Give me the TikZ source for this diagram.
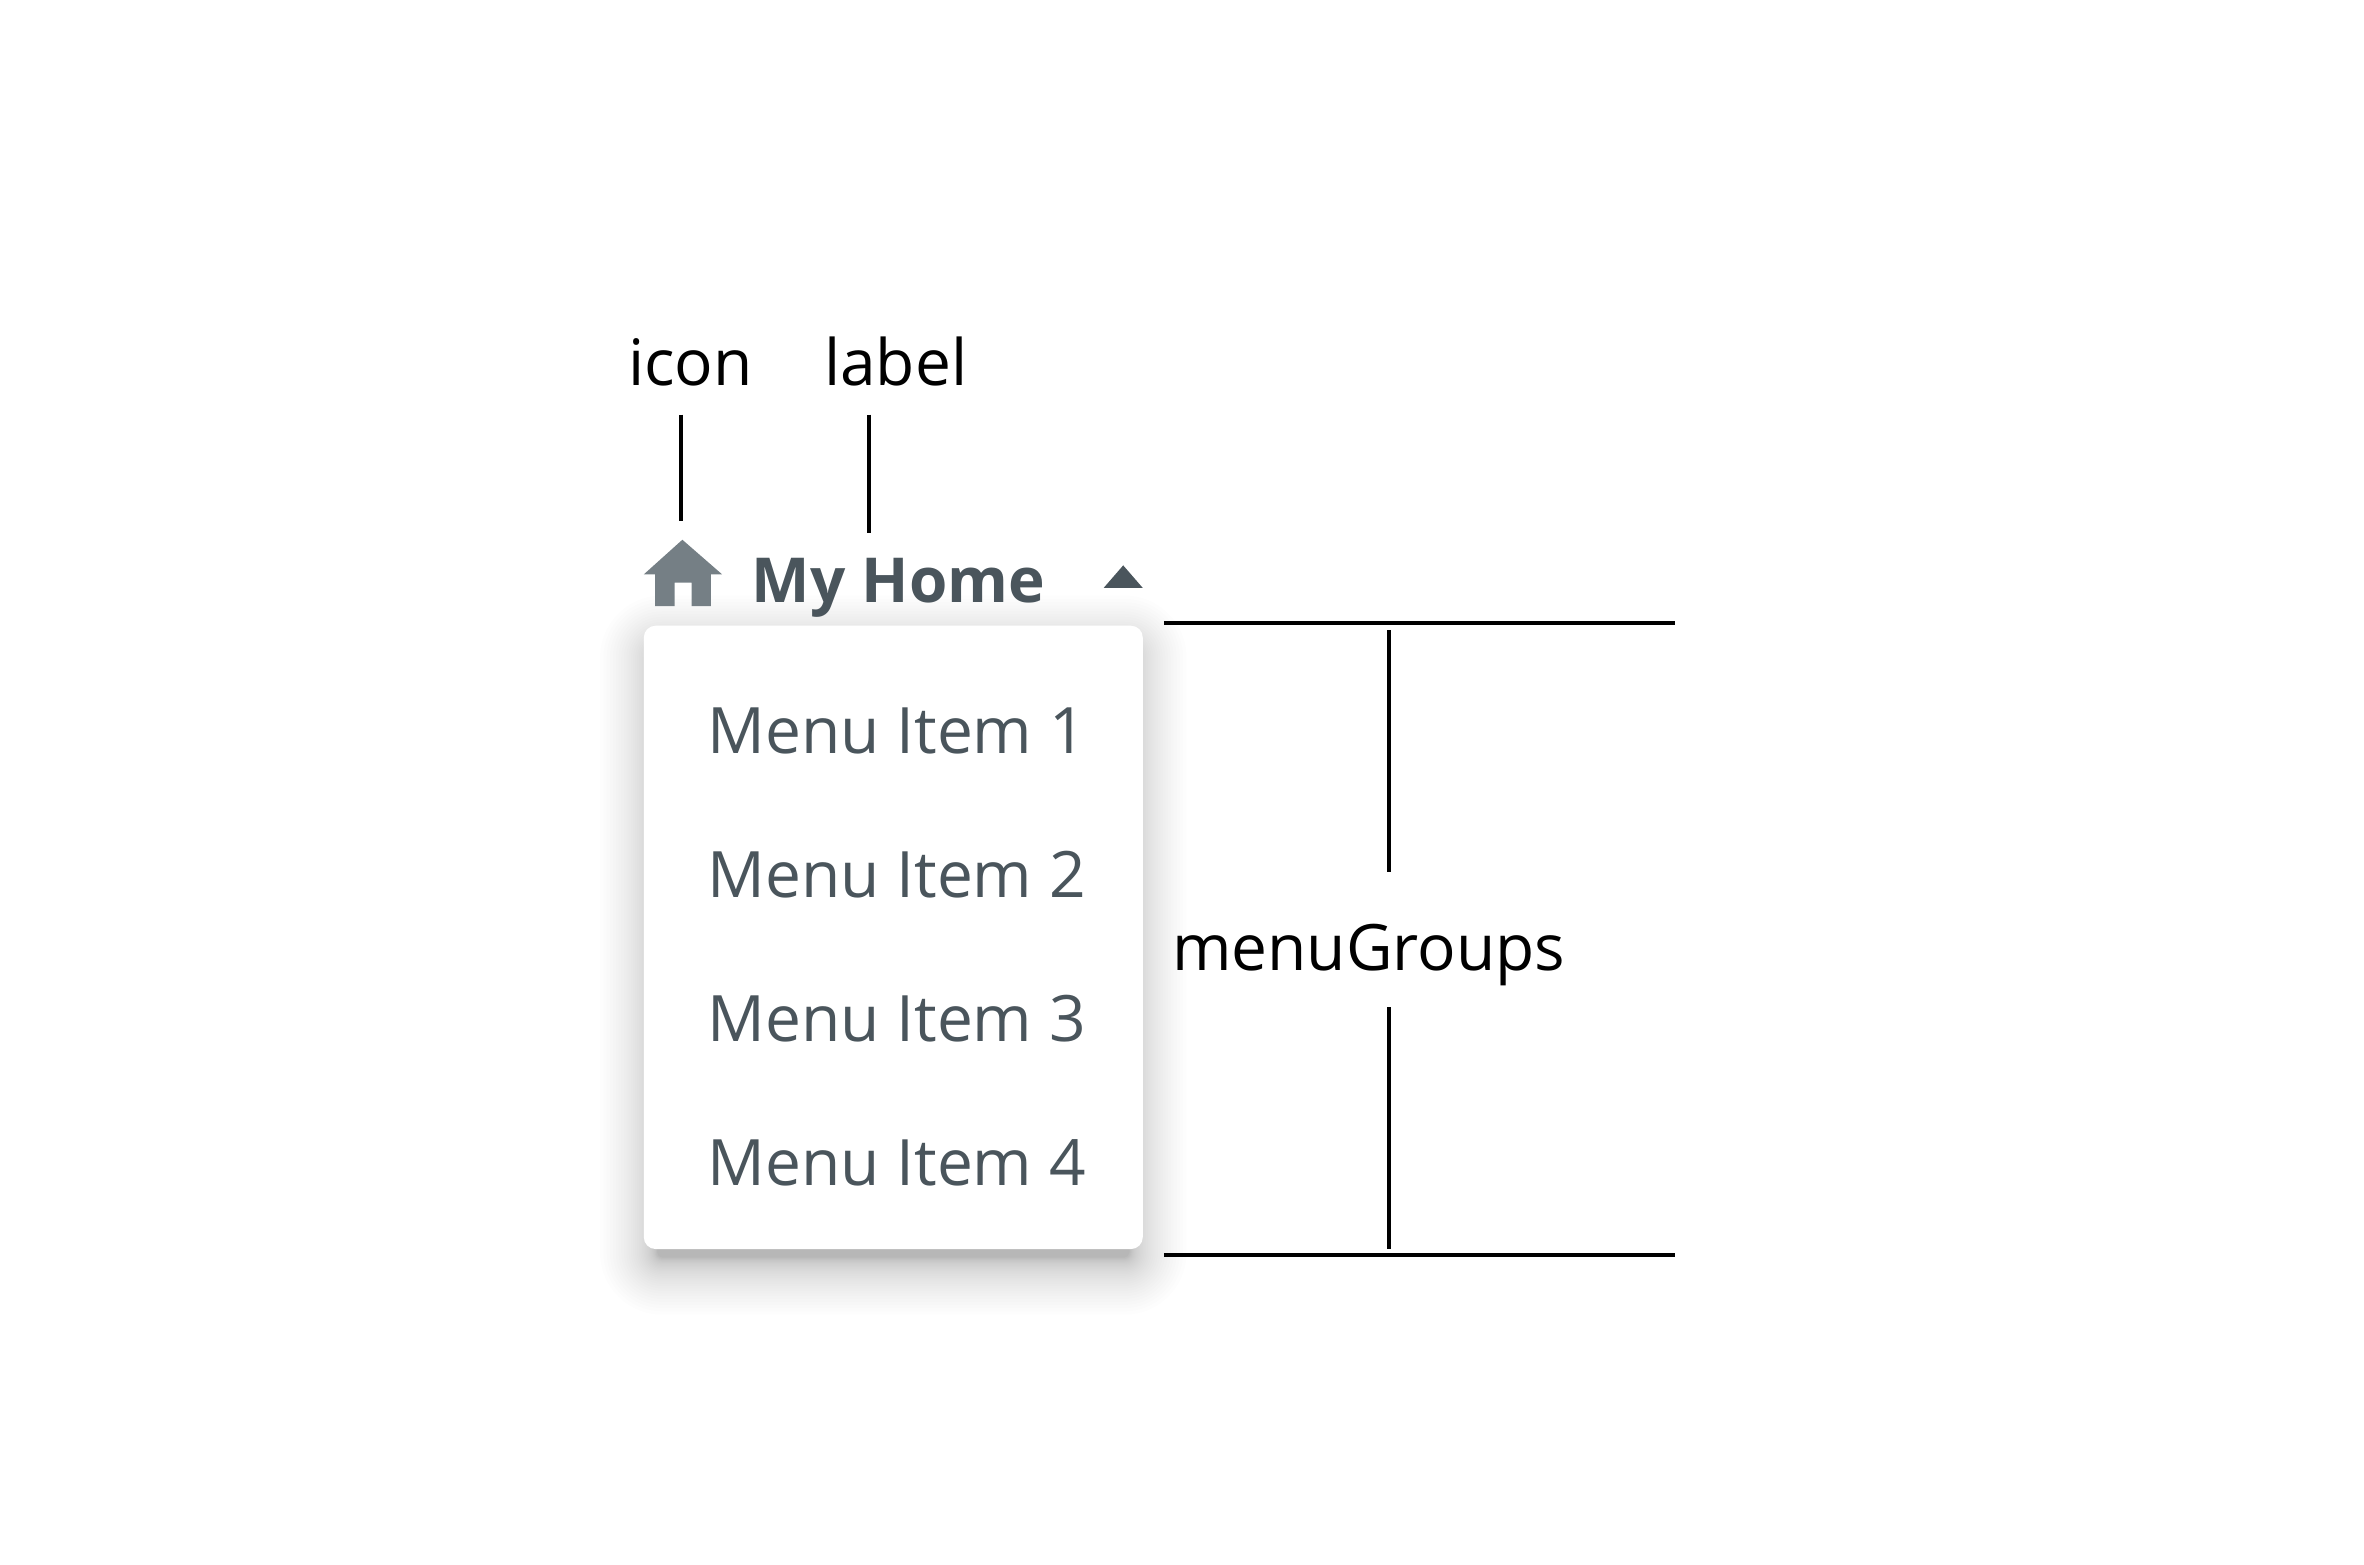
\documentclass[tikz,border=0pt]{standalone}
\usepackage{fontspec}
\setmainfont{Open Sans}
\definecolor{slate}{HTML}{4A555C}
\definecolor{homegrey}{HTML}{757F85}
\tikzset{
  calltext/.style={font=\fontsize{64}{70}\selectfont,text=black,inner sep=0pt,anchor=base west},
  itemtext/.style={font=\fontsize{64}{70}\selectfont,text=slate,inner sep=0pt,anchor=base west},
  titletext/.style={font=\fontsize{62}{70}\selectfont\bfseries,text=slate,inner sep=0pt,anchor=base west},
  leader/.style={draw=black,line width=3.6pt,line cap=butt},
  menucard/.style={fill=white,rounded corners=12pt}
}
\begin{document}
\begin{tikzpicture}[x=1.5077pt,y=-1.5077pt]
\useasboundingbox (0,0) rectangle (1568,1038);
% shadow
\foreach \i in {1,...,40}{
  \pgfmathsetmacro{\g}{38*(\i/40)^2.4-6}
  \pgfmathsetmacro{\r}{max(\g*1.5+14,2)}
  \fill[black,opacity=0.0095,rounded corners=\r pt] (430-\g,427-\g) rectangle (755+\g,840+\g);
}
\path[menucard] (427,415) rectangle (758,828.5);
% home icon
\fill[homegrey] (452.6,358) -- (479,381) -- (471.5,381) -- (471.5,402) -- (458.8,402) -- (458.8,386.5) -- (447.5,386.5) -- (447.5,402) -- (434.5,402) -- (434.5,381) -- (427,381) -- cycle;
% caret
\fill[slate] (745,375) -- (758,390) -- (732,390) -- cycle;
\node[titletext] (home) at (498.5,399.5) {My Home};
\node[itemtext] (m1) at (469.3,500) {Menu Item 1};
\node[itemtext] (m2) at (469.3,595.5) {Menu Item 2};
\node[itemtext] (m3) at (469.3,691) {Menu Item 3};
\node[itemtext] (m4) at (469.3,786.5) {Menu Item 4};
\node[calltext] (icon) at (416.5,256) {icon};
\node[calltext] (label) at (546.5,256) {label};
\node[calltext] (groups) at (777.3,643.5) {menuGroups};
\coordinate (iconA) at (451.6,275);
\coordinate (iconB) at (451.6,345.5);
\coordinate (labelA) at (576.4,275);
\coordinate (labelB) at (576.4,353.5);
\coordinate (topL) at (772,413.4);
\coordinate (topR) at (1111,413.4);
\coordinate (botL) at (772,832.6);
\coordinate (botR) at (1111,832.6);
\coordinate (vA) at (921.3,418);
\coordinate (vB) at (921.3,578.5);
\coordinate (vC) at (921.3,668);
\coordinate (vD) at (921.3,828.5);
\draw[leader] (iconA) -- (iconB);
\draw[leader] (labelA) -- (labelB);
\draw[leader] (topL) -- (topR);
\draw[leader] (botL) -- (botR);
\draw[leader] (vA) -- (vB);
\draw[leader] (vC) -- (vD);
\end{tikzpicture}
\end{document}
